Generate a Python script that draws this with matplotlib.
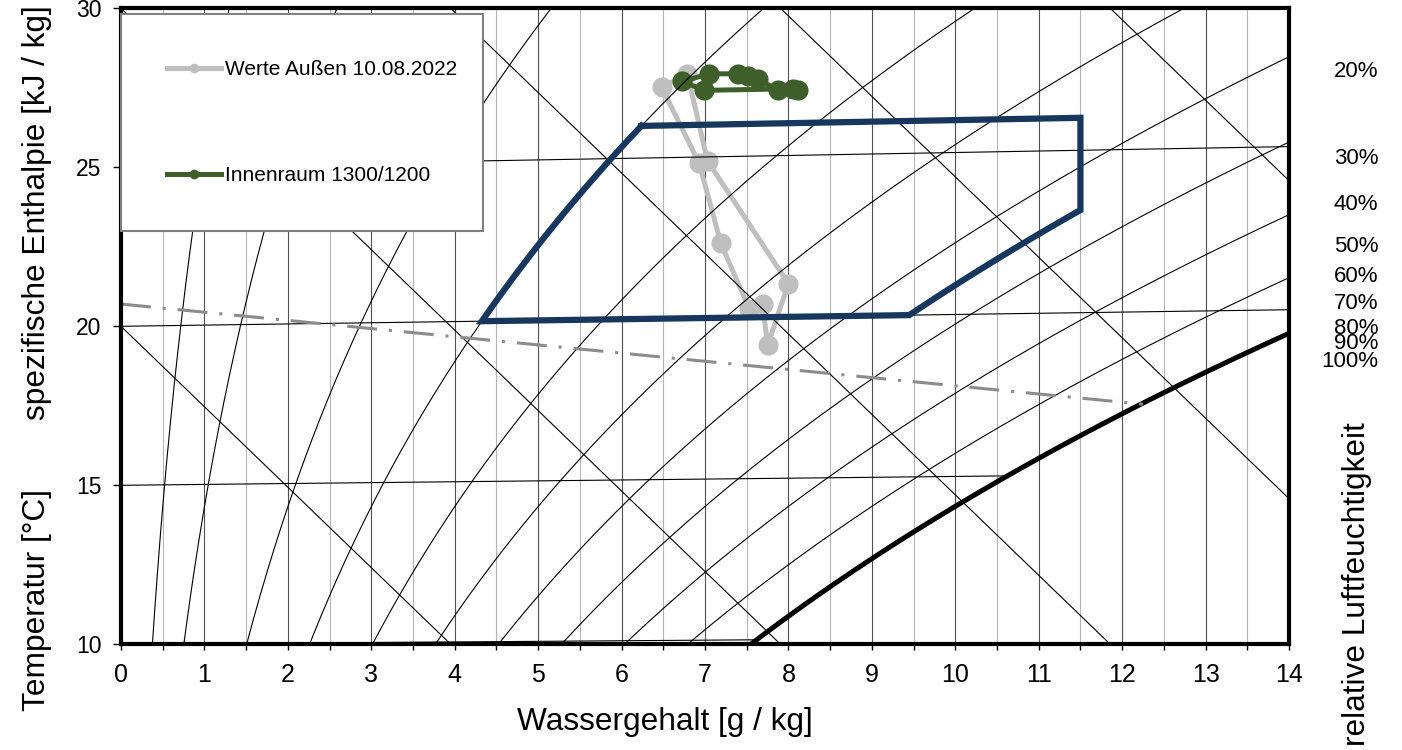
import numpy as np
import matplotlib
matplotlib.use("Agg")
import matplotlib.pyplot as plt

plt.rcParams['font.family'] = ['Liberation Sans', 'DejaVu Sans']

# Measured values (x in g/kg, y in chart temperature coordinate)
aussen_x = [7.53, 7.19, 6.93, 6.48, 6.79, 7.03, 8.00, 7.75, 7.69]
aussen_y = [20.55, 22.61, 25.13, 27.52, 27.92, 25.20, 21.34, 19.40, 20.71]
innen_x = [8.05, 6.99, 6.73, 7.05, 7.39, 7.51, 7.63, 7.87, 8.11]
innen_y = [27.47, 27.42, 27.70, 27.94, 27.94, 27.87, 27.79, 27.42, 27.42]

# h-x diagram background
t_iso = [10, 15, 20, 25, 30]
rh_levels = [0.05, 0.1, 0.2, 0.3, 0.4, 0.5, 0.6, 0.7, 0.8, 0.9, 1.0]
h_levels = [20, 30, 40, 50, 60]
h_slope = 2.53
rh_labels = ['20%', '30%', '40%', '50%', '60%', '70%', '80%', '90%', '100%']
rh_label_y = [28.0, 25.28, 23.84, 22.5, 21.56, 20.72, 19.94, 19.47, 18.89]
dash_x = [0, 12.25]
dash_y = [20.7, 17.55]

# comfort zone: temperature 20..26, rel. humidity 30..65 %, x <= 11.5
comf_t = [20, 26]
comf_rh = [0.30, 0.65]
comf_xmax = 11.5

P = 101325.0


def p_sat(t):
    return 611.2 * np.exp(17.62 * t / (243.12 + t))


def t_sat(ps):
    a = np.log(ps / 611.2)
    return 243.12 * a / (17.62 - a)


def x_at(t, phi):
    ps = p_sat(t)
    return 622 * phi * ps / (P - phi * ps)


def y_at(t, x):
    return t * (1 + 0.00186 * x)


fig = plt.figure(figsize=(14.02, 7.5), dpi=100)
ax = fig.add_axes([121 / 1402, (750 - 644.3) / 750, 1168 / 1402, 636 / 750])
ax.set_xlim(0, 14)
ax.set_ylim(10, 30)

# grid
ax.set_xticks(np.arange(0, 15, 1))
ax.set_xticks(np.arange(0.5, 14, 1), minor=True)
ax.set_yticks([10, 15, 20, 25, 30])
ax.xaxis.grid(True, which='major', color='#505050', lw=0.8)
ax.xaxis.grid(True, which='minor', color='#b5b5b5', lw=0.8)
ax.set_axisbelow(True)

# measured series
l_aussen, = ax.plot(aussen_x, aussen_y, color='#bfbfbf', lw=3.6, marker='o',
                    ms=14.5, mew=0, zorder=2, label='Werte Außen 10.08.2022')
l_innen, = ax.plot(innen_x, innen_y, color='#3e5f2a', lw=3.6, marker='o',
                   ms=14.5, mew=0, zorder=2.5, label='Innenraum 1300/1200')

# isotherms up to saturation
for t in t_iso:
    xs = min(x_at(t, 1.0), 14)
    ax.plot([0, xs], [y_at(t, 0), y_at(t, xs)], color='black', lw=0.8, zorder=3)

# relative humidity curves
tt = np.linspace(0, 40, 400)
for phi in rh_levels:
    xx = x_at(tt, phi)
    ax.plot(xx, y_at(tt, xx), color='black', lw=3.6 if phi == 1.0 else 0.8, zorder=3)

# enthalpy lines
xh = np.array([0, 14])
for h in h_levels:
    ax.plot(xh, h - h_slope * xh, color='black', lw=0.8, zorder=3)

ax.plot(dash_x, dash_y, color='#8c8c8c', lw=2.2, ls=(0, (9.8, 3.9, 1, 3.9)), zorder=3.5)

# comfort zone outline
t_lo, t_hi = comf_t
rh_lo, rh_hi = comf_rh
t_right = t_sat(comf_xmax * P / ((622 + comf_xmax) * rh_hi))
t_left = np.linspace(t_hi, t_lo, 30)
t_low = np.linspace(t_lo, t_right, 30)
x_left = x_at(t_left, rh_lo)
x_low = x_at(t_low, rh_hi)
zx = np.concatenate([x_left, x_low, [comf_xmax, x_left[0]]])
zy = np.concatenate([y_at(t_left, x_left), y_at(t_low, x_low),
                     [y_at(t_hi, comf_xmax), y_at(t_hi, x_left[0])]])
ax.plot(zx, zy, color='#17375e', lw=4.5, zorder=4, solid_joinstyle='miter')

# right side humidity labels
for lab, yl in zip(rh_labels, rh_label_y):
    ax.text(15.07, yl, lab, ha='right', va='center', fontsize=16, clip_on=False)

# axes styling
for s in ax.spines.values():
    s.set_linewidth(3)
    s.set_zorder(6)
ax.tick_params(axis='x', which='both', direction='out', length=4.5, width=1, labelsize=18, pad=9)
ax.tick_params(axis='y', direction='out', length=6, width=1, labelsize=16.5, pad=8)

fig.text(665 / 1402, 20 / 750, 'Wassergehalt [g / kg]', ha='center', va='baseline', fontsize=22.8)
fig.text(36.7 / 1402, 1 - 212.5 / 750, 'spezifische Enthalpie [kJ / kg]', rotation=90,
         ha='center', va='center', fontsize=22.8)
fig.text(36.7 / 1402, 1 - 600 / 750, 'Temperatur [°C]', rotation=90,
         ha='center', va='center', fontsize=22.8)
fig.text(1356.5 / 1402, 1 - 584.5 / 750, 'relative Luftfeuchtigkeit', rotation=90,
         ha='center', va='center', fontsize=22.8)

# legend
leg = ax.legend(handles=[l_aussen, l_innen], loc='upper left',
                bbox_to_anchor=(0.0, 0.0, 0.31, 0.991), mode='expand',
                fontsize=15, borderpad=2.2, labelspacing=4.2, handlelength=2.6,
                handletextpad=0.2, borderaxespad=0, fancybox=False,
                edgecolor='#808080', framealpha=1)
leg.get_frame().set_linewidth(1.5)
leg.set_zorder(10)
for h in leg.legend_handles:
    h.set_markersize(7)

fig.savefig('out.png', dpi=100)
